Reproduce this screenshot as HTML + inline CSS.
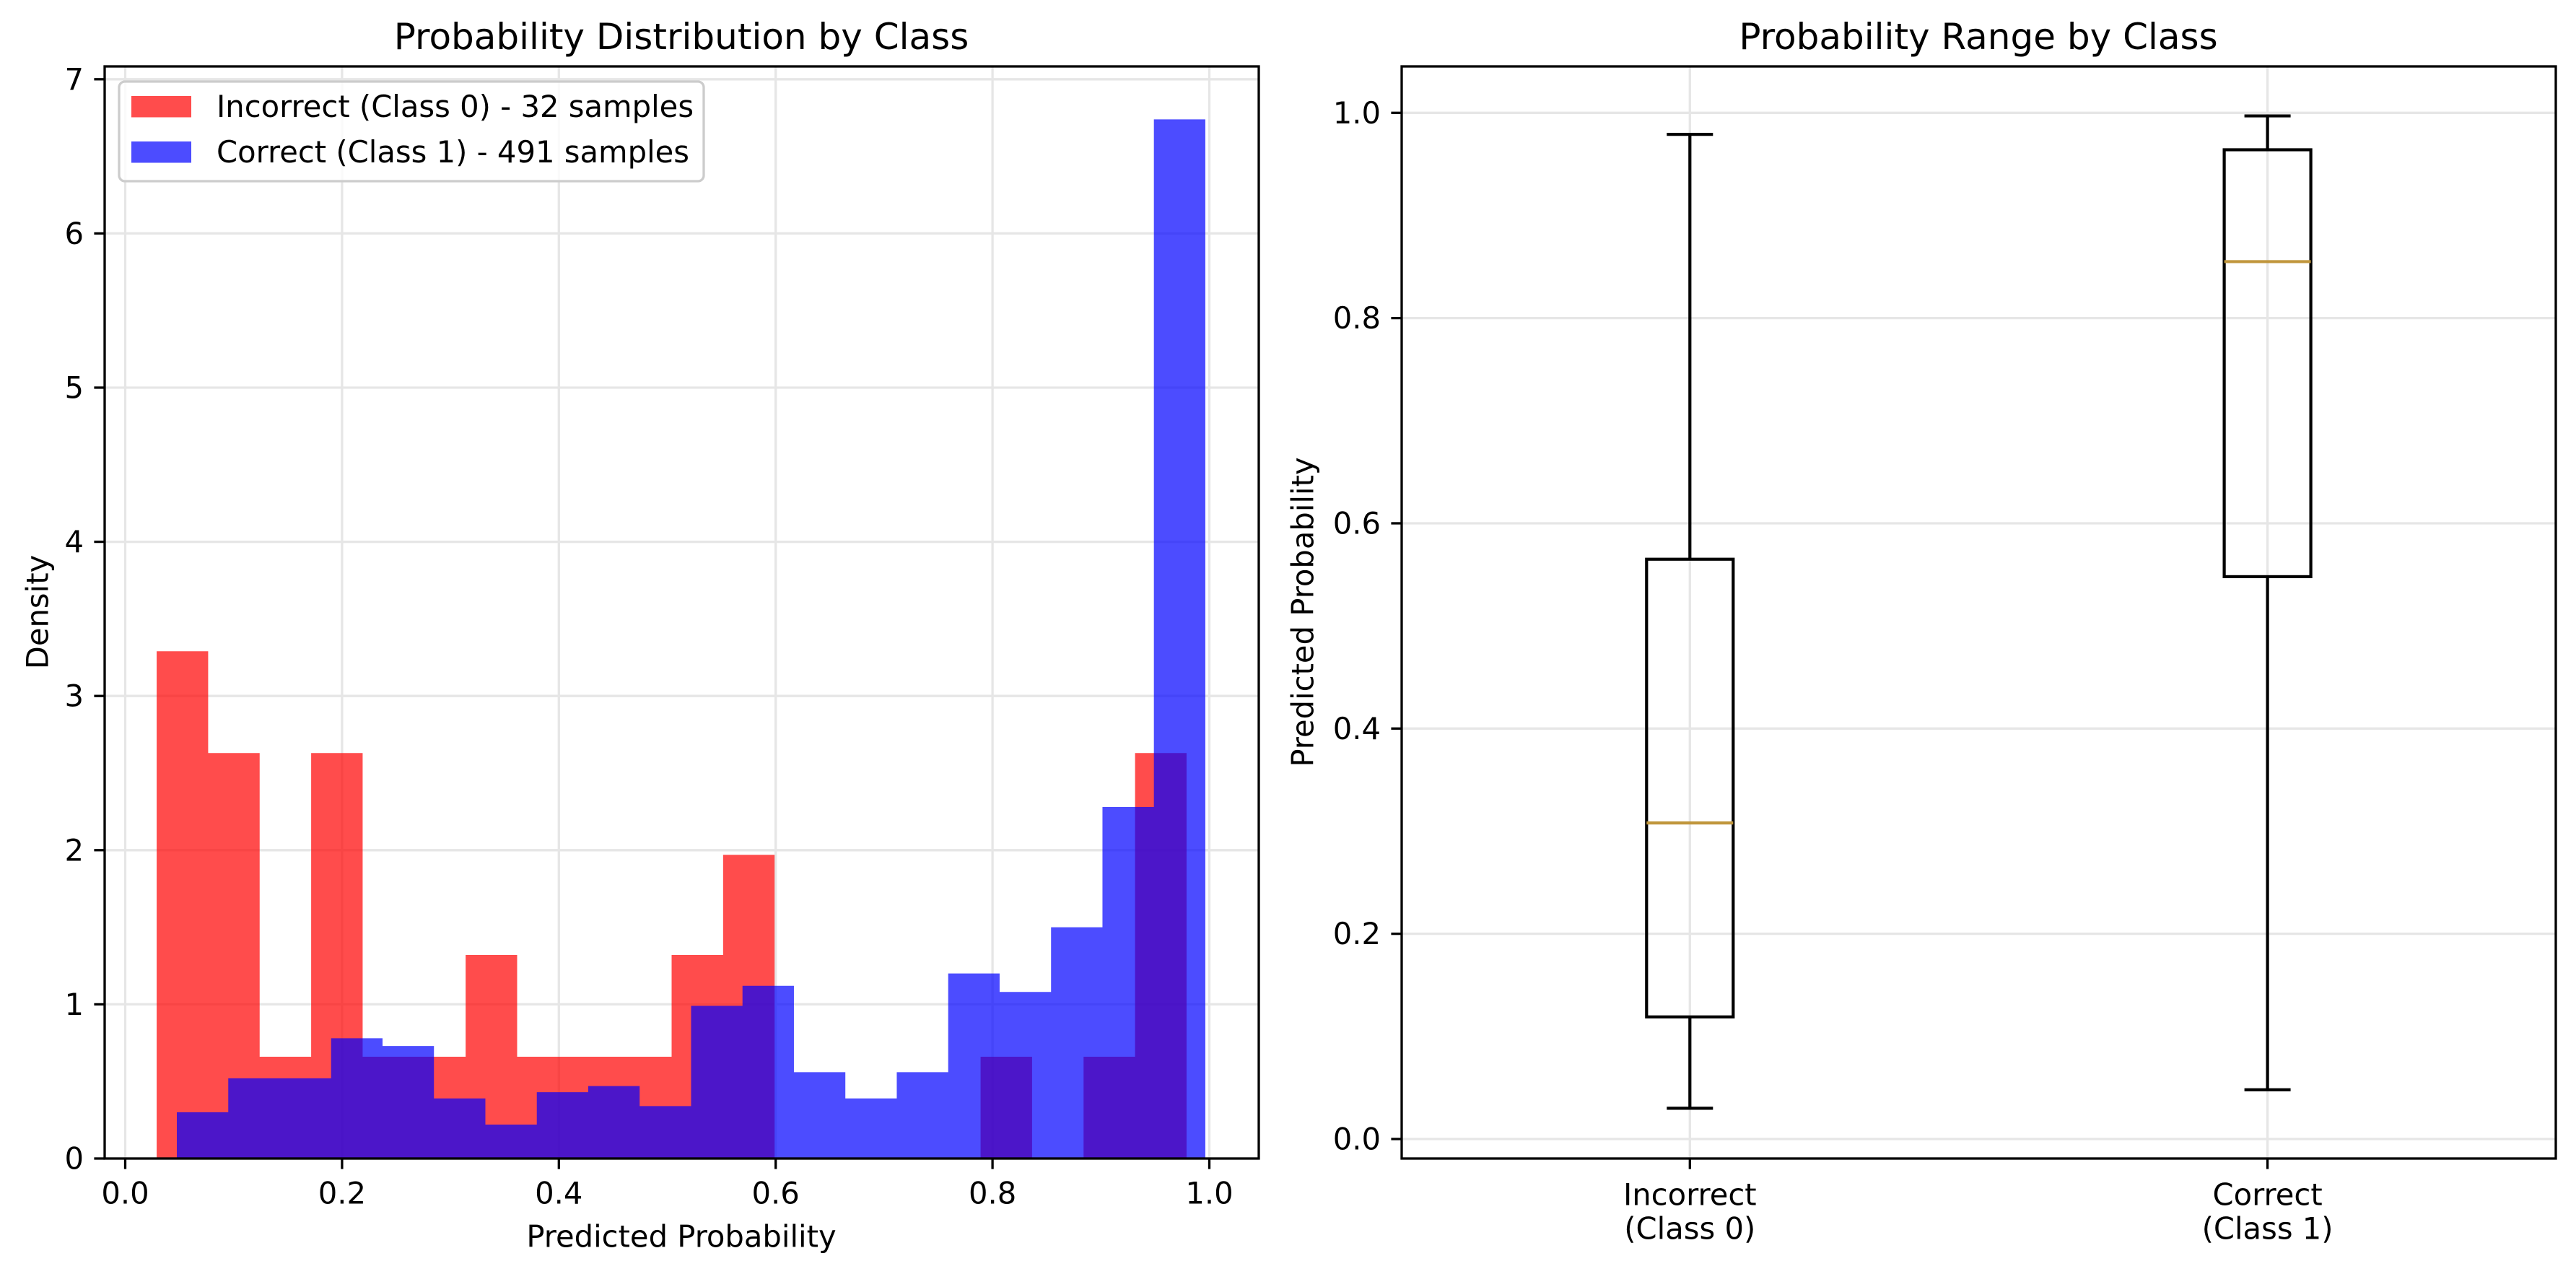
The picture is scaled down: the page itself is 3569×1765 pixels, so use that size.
<!DOCTYPE html>
<html><head><meta charset="utf-8"><style>
html,body{margin:0;padding:0;background:#fff;}
svg{display:block;font-family:"DejaVu Sans","Liberation Sans",sans-serif;}
</style></head><body>
<svg id="fig" width="3569" height="1765" viewBox="0 0 3569 1765" xmlns="http://www.w3.org/2000/svg">
<rect width="3569" height="1765" fill="#fff"/>
<g id="left"></g>
<g id="right"></g>
</svg>
<script>
// ---- Histogram data ----
const redRange = [0.029, 0.979];
const redDensity = [3.29,2.63,0.66,2.63,0.66,0.66,1.32,0.66,0.66,0.66,1.32,1.97,0,0,0,0,0.66,0,0.66,2.63];
const blueRange = [0.0476, 0.9963];
const blueDensity = [0.30,0.52,0.52,0.78,0.73,0.39,0.22,0.43,0.47,0.34,0.99,1.12,0.56,0.39,0.56,1.20,1.08,1.50,2.28,6.74];
const histXTicks = [0.0,0.2,0.4,0.6,0.8,1.0];
const histYTicks = [0,1,2,3,4,5,6,7];
const legendLabels = ["Incorrect (Class 0) - 32 samples","Correct (Class 1) - 491 samples"];
// ---- Boxplot data ----
const boxCategories = ["Incorrect\n(Class 0)","Correct\n(Class 1)"];
const boxLow = [0.030, 0.048];
const boxQ1 = [0.119, 0.548];
const boxMedian = [0.308, 0.855];
const boxQ3 = [0.565, 0.964];
const boxHigh = [0.979, 0.997];
const boxYTicks = [0.0,0.2,0.4,0.6,0.8,1.0];

const NS="http://www.w3.org/2000/svg";
function mk(parent,tag,attrs,text){const e=document.createElementNS(NS,tag);for(const k in attrs)e.setAttribute(k,attrs[k]);if(text!==undefined)e.textContent=text;parent.appendChild(e);return e;}
const GRID="#e6e6e6", FS=41.7;

// ---------- Left panel ----------
const L=document.getElementById('left');
const LA={x0:145,x1:1744,y0:92,y1:1605};
const hx=v=>173.5+v*1502;
const hy=v=>1605-v*213.6;
histXTicks.forEach(t=>{const g=mk(L,'line',{x1:hx(t),x2:hx(t),y1:LA.y0,y2:LA.y1,stroke:GRID,'stroke-width':3.3});

});
histYTicks.forEach(t=>{const g=mk(L,'line',{x1:LA.x0,x2:LA.x1,y1:hy(t),y2:hy(t),stroke:GRID,'stroke-width':3.3});

});
function bars(range,dens,color,name){
  const w=(range[1]-range[0])/dens.length;
  let d='M'+hx(range[0])+','+hy(0);
  dens.forEach((v,i)=>{
    const a=range[0]+i*w,b=a+w;
    d+=' L'+hx(a)+','+hy(v)+' L'+hx(b)+','+hy(v);
  });
  d+=' L'+hx(range[1])+','+hy(0)+' Z';
  const p=mk(L,'path',{d:d,fill:color,'fill-opacity':0.7});
  
  
}
bars(redRange,redDensity,'#ff0000','bars-incorrect');
bars(blueRange,blueDensity,'#0000ff','bars-correct');
const sp=mk(L,'rect',{x:LA.x0,y:LA.y0,width:LA.x1-LA.x0,height:LA.y1-LA.y0,fill:'none',stroke:'#000','stroke-width':3.3});


histXTicks.forEach(t=>{
  mk(L,'line',{x1:hx(t),x2:hx(t),y1:LA.y1,y2:LA.y1+14.6,stroke:'#000','stroke-width':3.3});
  const tx=mk(L,'text',{x:hx(t),y:1653,'font-size':FS,'text-anchor':'middle','dominant-baseline':'central'},t.toFixed(1));
  
  
});
histYTicks.forEach(t=>{
  mk(L,'line',{x1:LA.x0-14.6,x2:LA.x0,y1:hy(t),y2:hy(t),stroke:'#000','stroke-width':3.3});
  const tx=mk(L,'text',{x:116,y:hy(t),'font-size':FS,'text-anchor':'end','dominant-baseline':'central'},String(t));
  
  
});
let t1=mk(L,'text',{x:944,y:68,'font-size':50,'text-anchor':'middle'},'Probability Distribution by Class');


let xl=mk(L,'text',{x:944,y:1713,'font-size':FS,'text-anchor':'middle','dominant-baseline':'central'},'Predicted Probability');


let yl=mk(L,'text',{x:52,y:848,'font-size':FS,'text-anchor':'middle','dominant-baseline':'central',transform:'rotate(-90 52 848)'},'Density');


const lg=mk(L,'g',{});


mk(lg,'rect',{x:165,y:113,width:810,height:138,rx:8,fill:'#fff','fill-opacity':0.8,stroke:'#cccccc','stroke-width':3.3});
const lcol=['#ff0000','#0000ff'], ly=[133,196], lb=[162,225];
legendLabels.forEach((s,i)=>{
  const e=mk(lg,'g',{});
  
  
  mk(e,'rect',{x:182,y:ly[i],width:83,height:29.5,fill:lcol[i],'fill-opacity':0.7});
  mk(e,'text',{x:300,y:lb[i],'font-size':FS},s);
});

// ---------- Right panel ----------
const R=document.getElementById('right');
const RA={x0:1942,x1:3541,y0:92,y1:1605};
const bx=p=>2341.3+(p-1)*800.3;
const by=v=>1578-v*1421.7;
boxYTicks.forEach(t=>{const g=mk(R,'line',{x1:RA.x0,x2:RA.x1,y1:by(t),y2:by(t),stroke:GRID,'stroke-width':3.3});

});
boxCategories.forEach((c,i)=>{const g=mk(R,'line',{x1:bx(i+1),x2:bx(i+1),y1:RA.y0,y2:RA.y1,stroke:GRID,'stroke-width':3.3});

});
boxCategories.forEach((c,i)=>{
  const cx=bx(i+1), hw=60, cw=32;
  const g=mk(R,'g',{fill:'none',stroke:'#000','stroke-width':4.2});
  
  
  mk(g,'line',{x1:cx,x2:cx,y1:by(boxQ3[i]),y2:by(boxHigh[i])});
  mk(g,'line',{x1:cx,x2:cx,y1:by(boxQ1[i]),y2:by(boxLow[i])});
  mk(g,'line',{x1:cx-cw,x2:cx+cw,y1:by(boxHigh[i]),y2:by(boxHigh[i])});
  mk(g,'line',{x1:cx-cw,x2:cx+cw,y1:by(boxLow[i]),y2:by(boxLow[i])});
  mk(g,'rect',{x:cx-hw,y:by(boxQ3[i]),width:2*hw,height:by(boxQ1[i])-by(boxQ3[i])});
  const m=mk(R,'line',{x1:cx-hw,x2:cx+hw,y1:by(boxMedian[i]),y2:by(boxMedian[i]),stroke:'#c0963c','stroke-width':4.2});
  
  
  mk(R,'line',{x1:cx,x2:cx,y1:RA.y1,y2:RA.y1+14.6,stroke:'#000','stroke-width':3.3});
  const parts=c.split('\n');
  parts.forEach((p,j)=>{
    const tx=mk(R,'text',{x:cx,y:1655+j*47,'font-size':FS,'text-anchor':'middle','dominant-baseline':'central'},p);
    
    
  });
});
const sp2=mk(R,'rect',{x:RA.x0,y:RA.y0,width:RA.x1-RA.x0,height:RA.y1-RA.y0,fill:'none',stroke:'#000','stroke-width':3.3});


boxYTicks.forEach(t=>{
  mk(R,'line',{x1:RA.x0-14.6,x2:RA.x0,y1:by(t),y2:by(t),stroke:'#000','stroke-width':3.3});
  const tx=mk(R,'text',{x:1913,y:by(t),'font-size':FS,'text-anchor':'end','dominant-baseline':'central'},t.toFixed(1));
  
  
});
let t2=mk(R,'text',{x:2741,y:68,'font-size':50,'text-anchor':'middle'},'Probability Range by Class');


let yl2=mk(R,'text',{x:1805,y:848,'font-size':FS,'text-anchor':'middle','dominant-baseline':'central',transform:'rotate(-90 1805 848)'},'Predicted Probability');


</script>
</body></html>
